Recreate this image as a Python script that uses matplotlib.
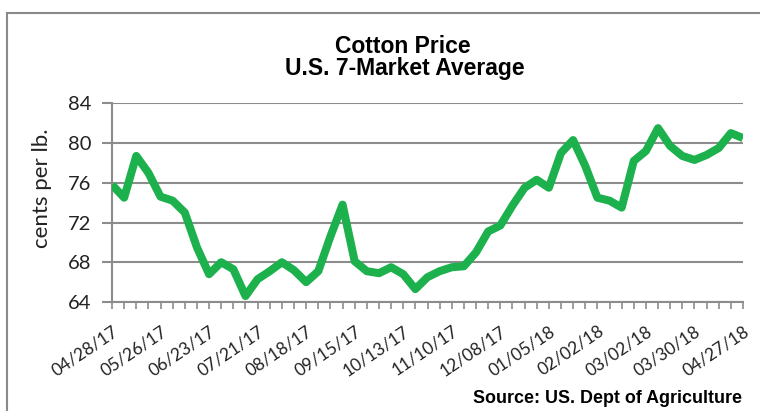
import matplotlib
matplotlib.use("Agg")
from matplotlib import pyplot as plt
from matplotlib.lines import Line2D

# weekly prices, 04/28/17 .. 04/27/18 (cents per lb.)
prices = [
    75.8, 74.5, 78.7, 77.0, 74.6, 74.2, 73.0, 69.5, 66.8, 68.0,
    67.3, 64.6, 66.3, 67.1, 68.0, 67.2, 66.0, 67.1, 70.6, 73.8,
    68.1, 67.1, 66.9, 67.5, 66.8, 65.3, 66.5, 67.1, 67.5, 67.6,
    69.0, 71.1, 71.7, 73.7, 75.5, 76.3, 75.5, 79.0, 80.3, 77.7,
    74.5, 74.2, 73.5, 78.2, 79.2, 81.5, 79.7, 78.7, 78.3, 78.8,
    79.5, 81.0, 80.5,
]
tick_labels = [
    "04/28/17", "05/26/17", "06/23/17", "07/21/17", "08/18/17",
    "09/15/17", "10/13/17", "11/10/17", "12/08/17", "01/05/18",
    "02/02/18", "03/02/18", "03/30/18", "04/27/18",
]
y_ticks = [64, 68, 72, 76, 80, 84]

W, H = 760, 411
fig = plt.figure(figsize=(W / 100, H / 100), dpi=100)

ax = fig.add_axes([112 / W, 1 - 302 / H, (743 - 112) / W, (302 - 103.3) / H])
weeks = list(range(len(prices)))
ax.plot(weeks, prices, color="#1db14d", lw=5.8, solid_joinstyle="round",
        solid_capstyle="butt", zorder=3)

ax.set_xlim(0, len(prices) - 1)
ax.set_ylim(64, 84)
ax.set_yticks(y_ticks)
ax.set_xticks(range(0, len(prices), 4))
ax.set_xticks(weeks, minor=True)
ax.set_xticklabels(tick_labels, rotation=34, ha="right", va="top",
                   rotation_mode="anchor", fontfamily="Lato", fontsize=12.5,
                   color="#222222")
for lbl in ax.get_yticklabels():
    lbl.set_fontfamily("Lato")
    lbl.set_fontsize(14.5)
    lbl.set_color("#222222")

grid_c = "#8c8c8c"
ax.grid(axis="y", color=grid_c, lw=1.5)
ax.set_axisbelow(True)
for s in ["top", "right"]:
    ax.spines[s].set_visible(False)
for s in ["left", "bottom"]:
    ax.spines[s].set_color(grid_c)
    ax.spines[s].set_linewidth(1.5)
ax.tick_params(axis="y", length=7, width=1.5, color=grid_c, pad=8)
ax.tick_params(axis="x", which="both", length=5, width=1.2, color=grid_c,
               pad=10)

ax.set_ylabel("cents per lb.", fontfamily="Lato", fontsize=16,
              color="#222222")
ax.yaxis.set_label_coords(52 / W, 1 - 188 / H, transform=fig.transFigure)

fig.text(403 / W, 1 - 53 / H, "Cotton Price", ha="center", va="baseline",
         fontfamily="Liberation Sans", fontweight="bold", fontsize=16.5)
fig.text(405 / W, 1 - 75 / H, "U.S. 7-Market Average", ha="center",
         va="baseline", fontfamily="Liberation Sans", fontweight="bold",
         fontsize=16.5)
fig.text(742 / W, 1 - 403 / H, "Source: US. Dept of Agriculture", ha="right",
         va="baseline", fontfamily="Liberation Sans", fontweight="bold",
         fontsize=12.9)

# chart frame (cropped at right and bottom)
fig.add_artist(Line2D([7 / W, 7 / W], [0, 1 - 13 / H], color="#8a8a8a",
                      lw=1.5, transform=fig.transFigure))
fig.add_artist(Line2D([7 / W, 1], [1 - 13 / H, 1 - 13 / H], color="#8a8a8a",
                      lw=1.5, transform=fig.transFigure))

fig.savefig("out.png", dpi=100)
